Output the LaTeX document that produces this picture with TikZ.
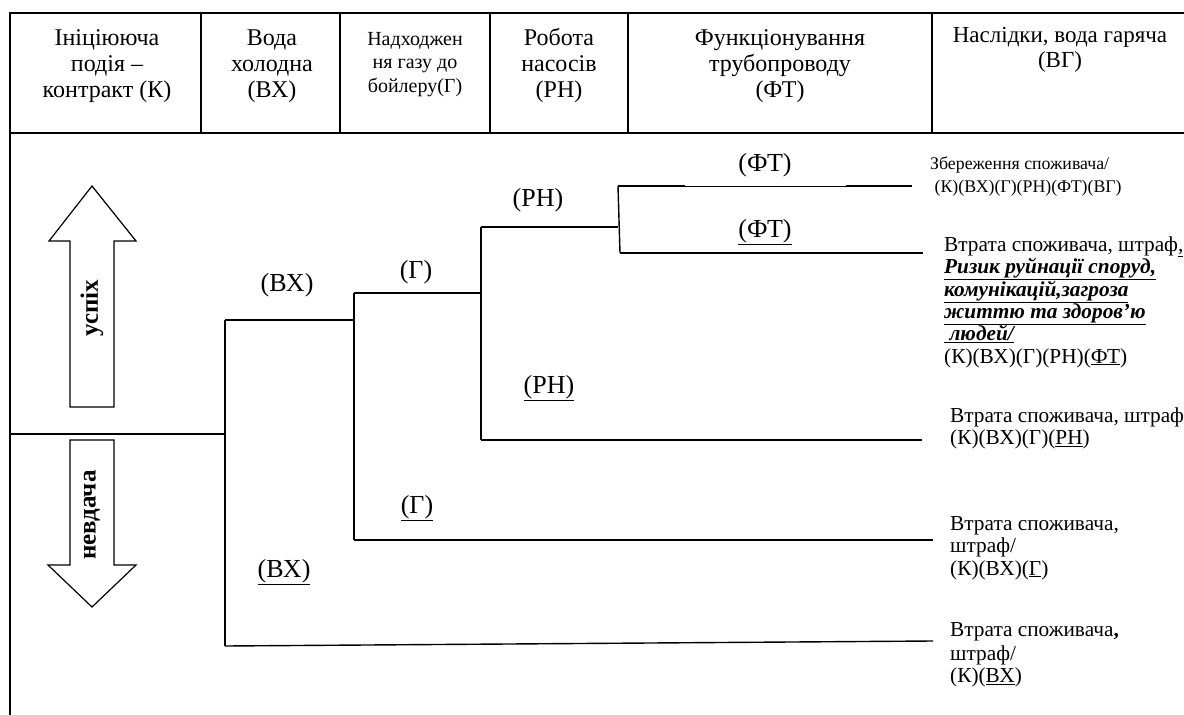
\documentclass[tikz,border=0pt]{standalone}
\usepackage{fontspec}
\setmainfont{Liberation Serif}
\begin{document}
\begin{tikzpicture}[x=1pt,y=-1pt,
  ln/.style={line width=1.4pt},
  thinln/.style={line width=0.8pt},
  hdr/.style={anchor=north,inner sep=0pt,align=center,font=\fontsize{24}{26.3}\selectfont},
  hdrr/.style={anchor=north,inner sep=0pt,align=center,font=\fontsize{23}{25}\selectfont},
  hdrs/.style={anchor=north,inner sep=0pt,align=center,font=\fontsize{20}{23.5}\selectfont},
  blab/.style={inner sep=0pt,font=\fontsize{26}{30}\selectfont},
  rtxt/.style={anchor=north west,inner sep=0pt,align=left,font=\fontsize{21.3}{22.4}\selectfont},
  rtxts/.style={anchor=north west,inner sep=0pt,align=left,font=\fontsize{17.8}{23}\selectfont},
  arr/.style={line width=1.2pt,fill=white},
  vlab/.style={inner sep=0pt,rotate=90,font=\fontsize{25}{30}\selectfont\bfseries}]
\useasboundingbox (0,0) rectangle (1184,715);
% header grid
\draw[ln] (10,715) -- (10,13) -- (1184,13);
\draw[ln] (10,133) -- (1184,133);
\foreach \xx in {201,340,490,628,932} \draw[ln] (\xx,13) -- (\xx,133);
% header texts
\node[hdr] (h1) at (107,45-18.41) {\strut Ініціююча\\\strut подія –\\\strut контракт (К)};
\node[hdr] (h2) at (272,45-18.41) {\strut Вода\\\strut холодна\\\strut (ВХ)};
\node[hdrs] (h3) at (415,45-16.45) {\strut Надходжен\\\strut ня газу до\\\strut бойлеру(Г)};
\node[hdr] (h4) at (559,45-18.41) {\strut Робота\\\strut насосів\\\strut (РН)};
\node[hdr] (h5) at (780,45-18.41) {\strut Функціонування\\\strut трубопроводу\\\strut (ФТ)};
\node[hdrr] (h6) at (1060,42-17.5) {\strut Наслідки, вода гаряча\\\strut (ВГ)};
% tree coordinates
\coordinate (s) at (10,434);
\coordinate (j1) at (225,434);
\coordinate (j1t) at (225,320);
\coordinate (j1b) at (225,646);
\coordinate (j2t) at (354,320);
\coordinate (j2u) at (354,293);
\coordinate (j2b) at (354,540);
\coordinate (j3u) at (481,293);
\coordinate (j3t) at (481,227);
\coordinate (j3b) at (481,440);
\coordinate (j4m) at (618,227);
\coordinate (j4t) at (618,186);
\coordinate (j4b) at (620,253);
\coordinate (e1a) at (685,186);
\coordinate (e1b) at (846,186);
\coordinate (e1) at (912,186);
\coordinate (e2) at (923,253);
\coordinate (e3) at (922,440);
\coordinate (e4) at (933,540);
\coordinate (e5) at (933,641);
\draw[ln] (s) -- (j1);
\draw[ln] (j1t) -- (j1b);
\draw[ln] (j1t) -- (j2t);
\draw[ln] (j2u) -- (j2b);
\draw[ln] (j2u) -- (j3u);
\draw[ln] (j3t) -- (j3b);
\draw[ln] (j3t) -- (j4m);
\draw[ln] (j4t) -- (j4b);
\draw[ln] (j4t) -- (e1a);
\draw[thinln] (e1a) -- (e1b);
\draw[ln] (e1b) -- (e1);
\draw[ln] (j4b) -- (e2);
\draw[ln] (j3b) -- (e3);
\draw[ln] (j2b) -- (e4);
\draw[ln] (j1b) -- (e5);
% branch labels
\node[blab] (l1) at (765,165) {(ФТ)};
\node[blab] (l2) at (765,232) {\underline{(ФТ)}};
\node[blab] (l3) at (538,200) {(РН)};
\node[blab] (l4) at (549,388) {\underline{(РН)}};
\node[blab] (l5) at (416,272) {(Г)};
\node[blab] (l6) at (417,508) {\underline{(Г)}};
\node[blab] (l7) at (287,285) {(ВХ)};
\node[blab] (l8) at (284,572) {\underline{(ВХ)}};
% arrows
\draw[arr] (70,407) -- (70,241) -- (49,241) -- (92,186) -- (136,241) -- (114,241) -- (114,407) -- cycle;
\node[vlab] (up) at (92,308) {успіх};
\draw[arr] (70,440) -- (114,440) -- (114,565) -- (136,565) -- (92,607) -- (48,565) -- (70,565) -- cycle;
\node[vlab] (dn) at (92,515) {невдача};
% outcomes
\node[rtxts] (o1) at (930,169-16.1) {\strut Збереження споживача/\\\strut\ (К)(ВХ)(Г)(РН)(ФТ)(ВГ)};
\node[rtxt] (o2) at (944,251-15.68) {\strut Втрата споживача, штраф\underline{,}\\
  \strut\textbf{\textit{\underline{Ризик руйнації споруд,}}}\\
  \strut\textbf{\textit{\underline{комунікацій,загроза}}}\\
  \strut\textbf{\textit{\underline{життю та здоров’ю}}}\\
  \strut\textbf{\textit{\underline{\ людей/}}}\\
  \strut(К)(ВХ)(Г)(РН)(\underline{ФТ})};
\node[rtxt] (o3) at (950,422-15.68) {\strut Втрата споживача, штраф\\\strut (К)(ВХ)(Г)(\underline{РН})};
\node[rtxt] (o4) at (950,530-15.68) {\strut Втрата споживача,\\\strut штраф/\\\strut (К)(ВХ)(\underline{Г})};
\node[rtxt] (o5) at (950,636-15.68) {\strut Втрата споживача\textbf{,}\\[1.5pt]\strut штраф/\\\strut (К)(\underline{ВХ})};
\end{tikzpicture}
\end{document}
